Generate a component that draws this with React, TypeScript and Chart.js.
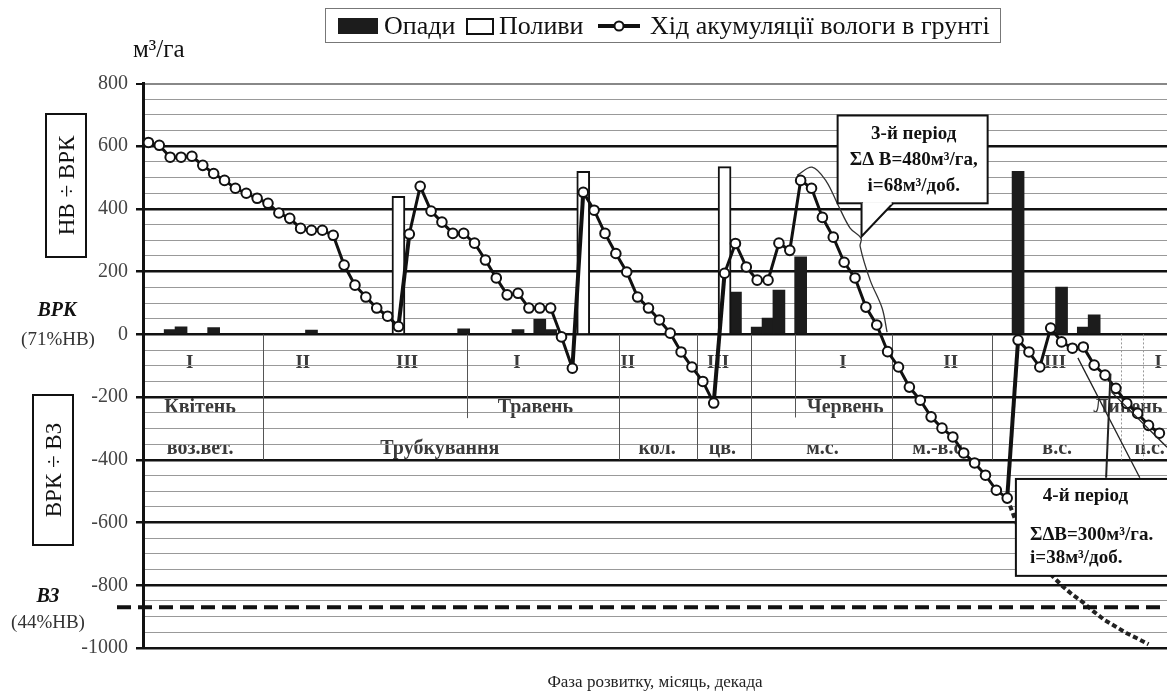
import React, { useEffect, useRef } from "react";
import { Chart, registerables } from "chart.js";

Chart.register(...registerables);

const SERIF = '"Liberation Serif", "Times New Roman", "DejaVu Serif", serif';
const font = (size: number, bold = false, italic = false) =>
  `${italic ? "italic " : ""}${bold ? "bold " : ""}${size}px ${SERIF}`;

// Daily soil-moisture accumulation (m3/ha), day 0 = 1 April
const moistureValues = [
  612, 603, 565, 565, 568, 539, 513, 491, 466, 450,
  434, 418, 387, 370, 338, 332, 332, 316, 221, 157,
  119, 84, 58, 25, 320, 472, 393, 358, 322, 322,
  291, 237, 180, 126, 131, 84, 84, 84, -8, -108,
  453, 396, 322, 258, 199, 119, 84, 46, 4, -56,
  -104, -150, -219, 195, 290, 215, 173, 173, 291, 268,
  491, 466, 373, 310, 230, 180, 87, 30, -55, -104,
  -168, -210, -263, -299, -327, -378, -410, -449, -497, -522,
  -18, -56, -104, 20, -24, -44, -40, -98, -130, -172,
  -220, -252, -290, -315,
];

const rainDays = [2, 3, 6, 15, 29, 34, 36, 37, 54, 56, 57, 58, 60, 80, 84, 86, 87];
const rainValues = [15, 24, 22, 14, 18, 15, 48, 15, 135, 23, 52, 141, 247, 520, 151, 23, 62];

const irrigationDays = [23, 40, 53];
const irrigationValues = [440, 520, 535];

// projected course without the rain of day 80
const projectionDays = [79, 80, 81, 82, 83, 84, 85, 86, 87, 88, 89, 90, 91, 92];
const projectionValues = [-522, -615, -665, -715, -765, -800, -830, -855, -885, -912, -932, -953, -970, -988];

// thin outline of the 3rd period
const envelopeDays = [59.67, 61.05, 62.34, 63.45, 64.55, 65.56, 65.47, 66.39, 67.49, 67.95];
const envelopeValues = [507, 533, 489, 412, 339, 307, 281, 173, 84, 7];

const majorTicks = [800, 600, 400, 200, 0, -200, -400, -600, -800, -1000];

const decadeLabels = ["I", "II", "III", "I", "II", "III", "I", "II", "III", "I"];
const decadePositions = [3.8, 14.2, 23.8, 33.9, 44.1, 52.4, 63.9, 73.8, 83.4, 92.9];
const monthLabels = ["Квітень", "Травень", "Червень", "Липень"];
const monthPositions = [4.75, 35.6, 64.1, 90.1];
const phaseLabels = ["воз.вет.", "Трубкування", "кол.", "цв.", "м.с.", "м.-в.с.", "в.с.", "п.с."];
const phasePositions = [4.75, 26.8, 46.8, 52.8, 62.0, 72.8, 83.6, 92.1];
const dividerPositions = [10.55, 29.3, 43.3, 50.5, 55.4, 59.5, 68.4, 77.6, 89.5, 91.5];
const dividerBottoms = [-400, -267, -400, -400, -400, -265, -400, -400, -400, -400];
const dividerDotted = [false, false, false, false, false, false, false, false, true, true];

const DECADE_ROW = -91;
const MONTH_ROW = -235;
const PHASE_ROW = -365;
const VZ_LEVEL = -870;

const overlay = {
  id: "overlay",
  beforeDraw(chart: any) {
    const { ctx, scales } = chart;
    const x = scales.x, y = scales.y;
    ctx.save();
    ctx.fillStyle = "#3a3a3a";
    ctx.textAlign = "center";
    ctx.textBaseline = "middle";
    ctx.font = font(19, true);
    decadeLabels.forEach((t, i) => ctx.fillText(t, x.getPixelForValue(decadePositions[i]), y.getPixelForValue(DECADE_ROW)));
    ctx.font = font(20, true);
    monthLabels.forEach((t, i) => ctx.fillText(t, x.getPixelForValue(monthPositions[i]), y.getPixelForValue(MONTH_ROW)));
    ctx.font = font(20, true);
    phaseLabels.forEach((t, i) => ctx.fillText(t, x.getPixelForValue(phasePositions[i]), y.getPixelForValue(PHASE_ROW)));
    ctx.restore();
  },
  beforeDatasetsDraw(chart: any) {
    const { ctx, scales } = chart;
    const x = scales.x, y = scales.y;
    ctx.save();
    dividerPositions.forEach((d, i) => {
      ctx.beginPath();
      ctx.strokeStyle = dividerDotted[i] ? "#999" : "#555";
      ctx.lineWidth = 1;
      ctx.setLineDash(dividerDotted[i] ? [2, 2] : []);
      const px = Math.round(x.getPixelForValue(d)) + 0.5;
      ctx.moveTo(px, y.getPixelForValue(0));
      ctx.lineTo(px, y.getPixelForValue(dividerBottoms[i]));
      ctx.stroke();
    });
    ctx.restore();
  },
  afterDatasetsDraw(chart: any) {
    const { ctx, scales, chartArea } = chart;
    const x = scales.x, y = scales.y;
    const P = (d: number, v: number) => [x.getPixelForValue(d), y.getPixelForValue(v)];
    ctx.save();
    // ВЗ dashed level
    ctx.beginPath();
    ctx.strokeStyle = "#111";
    ctx.lineWidth = 4;
    ctx.setLineDash([14, 7]);
    const vz = y.getPixelForValue(VZ_LEVEL);
    ctx.moveTo(117, vz);
    ctx.lineTo(chartArea.right, vz);
    ctx.stroke();
    ctx.setLineDash([]);

    // 4th period pointer & outline lines
    ctx.strokeStyle = "#222";
    const seg = (a: number[], b: number[]) => {
      const [x1, y1] = P(a[0], a[1]);
      const [x2, y2] = P(b[0], b[1]);
      ctx.beginPath();
      ctx.moveTo(x1, y1);
      ctx.lineTo(x2, y2);
      ctx.stroke();
    };
    ctx.lineWidth = 2;
    seg([88.1, -457], [88.5, -125]);
    ctx.lineWidth = 1.3;
    seg([91.2, -457], [85.5, -75]);
    seg([88.6, -184], [93.7, -360]);

    // 3rd period callout
    const [bx1, by1] = P(63.4, 698);
    const [bx2, by2] = P(77.2, 418);
    ctx.fillStyle = "#fff";
    ctx.fillRect(bx1, by1, bx2 - bx1, by2 - by1);
    ctx.lineWidth = 2;
    ctx.strokeStyle = "#111";
    ctx.strokeRect(bx1, by1, bx2 - bx1, by2 - by1);
    const [p1x, p1y] = P(65.6, 418);
    const [p2x, p2y] = P(65.6, 312);
    const [p3x, p3y] = P(68.5, 418);
    ctx.beginPath();
    ctx.moveTo(p1x, p1y);
    ctx.lineTo(p2x, p2y);
    ctx.lineTo(p3x, p3y);
    ctx.closePath();
    ctx.fill();
    ctx.beginPath();
    ctx.moveTo(p1x, p1y);
    ctx.lineTo(p2x, p2y);
    ctx.lineTo(p3x, p3y);
    ctx.stroke();
    ctx.beginPath();
    ctx.strokeStyle = "#fff";
    ctx.lineWidth = 2.5;
    ctx.moveTo(p1x + 1.5, p1y);
    ctx.lineTo(p3x - 1.5, p3y);
    ctx.stroke();

    ctx.fillStyle = "#111";
    ctx.textAlign = "center";
    ctx.textBaseline = "middle";
    ctx.font = font(19, true);
    const cx = x.getPixelForValue(70.4);
    ctx.fillText("3-й період", cx, y.getPixelForValue(640));
    ctx.fillText("ΣΔ B=480м³/га,", cx, y.getPixelForValue(555));
    ctx.fillText("і=68м³/доб.", cx, y.getPixelForValue(472));

    // 4th period callout
    const [qx1, qy1] = P(79.8, -461);
    const [qx2, qy2] = P(95, -770);
    ctx.fillStyle = "#fff";
    ctx.fillRect(qx1, qy1, qx2 - qx1, qy2 - qy1);
    ctx.lineWidth = 2;
    ctx.strokeStyle = "#111";
    ctx.strokeRect(qx1, qy1, qx2 - qx1, qy2 - qy1);
    ctx.fillStyle = "#111";
    ctx.font = font(19, true);
    ctx.textAlign = "center";
    ctx.fillText("4-й період", x.getPixelForValue(86.2), y.getPixelForValue(-515));
    ctx.textAlign = "left";
    ctx.fillText("ΣΔB=300м³/га.", x.getPixelForValue(81.1), y.getPixelForValue(-640));
    ctx.fillText("і=38м³/доб.", x.getPixelForValue(81.1), y.getPixelForValue(-712));
    ctx.restore();
  },
  afterDraw(chart: any) {
    const { ctx } = chart;
    ctx.save();
    ctx.fillStyle = "#111";
    ctx.textBaseline = "middle";

    // Legend
    ctx.strokeStyle = "#777";
    ctx.lineWidth = 1;
    ctx.strokeRect(325.5, 8.5, 675, 34);
    ctx.fillStyle = "#1c1c1c";
    ctx.fillRect(338, 18, 40, 16);
    ctx.strokeStyle = "#111";
    ctx.lineWidth = 2;
    ctx.strokeRect(467, 19, 26, 15);
    ctx.beginPath();
    ctx.lineWidth = 4;
    ctx.moveTo(598, 26);
    ctx.lineTo(640, 26);
    ctx.stroke();
    ctx.beginPath();
    ctx.arc(619, 26, 4.5, 0, Math.PI * 2);
    ctx.fillStyle = "#fff";
    ctx.fill();
    ctx.lineWidth = 2;
    ctx.stroke();
    ctx.fillStyle = "#111";
    ctx.font = font(26);
    ctx.textAlign = "left";
    ctx.fillText("Опади", 384, 27);
    ctx.fillText("Поливи", 499, 27);
    ctx.fillText("Хід акумуляції вологи в грунті", 650, 27);

    // unit
    ctx.font = font(25);
    ctx.fillText("м³/га", 133, 50);

    // side boxes
    ctx.lineWidth = 2;
    ctx.strokeRect(46, 114, 40, 143);
    ctx.strokeRect(33, 395, 40, 150);
    ctx.font = font(23);
    ctx.textAlign = "center";
    ctx.save();
    ctx.translate(67, 185.5);
    ctx.rotate(-Math.PI / 2);
    ctx.fillText("НВ ÷ ВРК", 0, 1);
    ctx.restore();
    ctx.save();
    ctx.translate(54, 470);
    ctx.rotate(-Math.PI / 2);
    ctx.fillText("ВРК ÷ ВЗ", 0, 1);
    ctx.restore();

    ctx.font = font(20, true, true);
    ctx.fillText("ВРК", 57, 311);
    ctx.fillText("ВЗ", 48, 597);
    ctx.font = font(19);
    ctx.fillStyle = "#333";
    ctx.fillText("(71%НВ)", 58, 340);
    ctx.fillText("(44%НВ)", 48, 623);

    ctx.fillStyle = "#222";
    ctx.font = font(17);
    ctx.fillText("Фаза розвитку, місяць, декада", 655, 683);
    ctx.restore();
  },
};

export default function App() {
  const ref = useRef<HTMLCanvasElement>(null);
  useEffect(() => {
    const canvas = ref.current;
    if (!canvas) return;
    const chart = new Chart(canvas, {
      type: "bar",
      data: {
        datasets: [
          {
            type: "line",
            label: "Хід акумуляції вологи в грунті",
            data: moistureValues.map((v, i) => ({ x: i, y: v })),
            borderColor: "#111",
            borderWidth: 3,
            segment: {
              borderWidth: (c: any) => (c.p1.parsed.y - c.p0.parsed.y > 250 ? 4 : 3),
            },
            pointRadius: 4.8,
            pointBackgroundColor: "#fff",
            pointBorderColor: "#111",
            pointBorderWidth: 2,
            tension: 0,
            order: 0,
          } as any,
          {
            type: "line",
            label: "projection",
            data: projectionDays.map((d, i) => ({ x: d, y: projectionValues[i] })),
            borderColor: "#222",
            borderWidth: 4,
            borderDash: [5, 3],
            pointRadius: 0,
            order: 1,
          } as any,
          {
            type: "line",
            label: "envelope",
            data: envelopeDays.map((d, i) => ({ x: d, y: envelopeValues[i] })),
            borderColor: "#333",
            borderWidth: 1.3,
            pointRadius: 0,
            tension: 0.35,
            order: 1,
          } as any,
          {
            type: "bar",
            label: "Поливи",
            data: irrigationDays.map((d, i) => ({ x: d, y: irrigationValues[i] })),
            backgroundColor: "#fff",
            borderColor: "#111",
            borderWidth: 2,
            barThickness: 13,
            grouped: false,
            order: 2,
          } as any,
          {
            type: "bar",
            label: "Опади",
            data: rainDays.map((d, i) => ({ x: d, y: rainValues[i] })),
            backgroundColor: "#1c1c1c",
            borderWidth: 0,
            barThickness: 12,
            grouped: false,
            order: 2,
          } as any,
        ],
      },
      options: {
        responsive: false,
        animation: false,
        layout: { autoPadding: false, padding: { top: 83.5, bottom: 47, left: 0, right: 0 } },
        plugins: { legend: { display: false }, tooltip: { enabled: false } },
        scales: {
          x: { type: "linear", min: -0.5, max: 93.7, display: false, offset: false, bounds: "ticks" },
          y: {
            type: "linear",
            min: -1000,
            max: 800,
            afterFit: (s: any) => {
              s.width = 143;
            },
            ticks: {
              stepSize: 50,
              autoSkip: false,
              color: "#444",
              padding: 8,
              font: { family: SERIF, size: 20 },
              callback: (v: any) => (majorTicks.includes(Number(v)) ? String(v) : ""),
            },
            grid: {
              drawTicks: true,
              tickLength: 7,
              color: (c: any) => {
                const v = c.tick ? c.tick.value : 1;
                if (v === 800) return "#888";
                return majorTicks.includes(v) ? "#111" : "#999";
              },
              lineWidth: (c: any) => {
                const v = c.tick ? c.tick.value : 1;
                if (v === 800) return 2;
                return majorTicks.includes(v) ? 2.5 : 1;
              },
              tickColor: (c: any) => {
                const v = c.tick ? c.tick.value : 1;
                return majorTicks.includes(v) ? "#111" : "rgba(0,0,0,0)";
              },
            },
            border: { display: true, color: "#111", width: 3 },
          },
        },
      },
      plugins: [overlay],
    } as any);
    return () => chart.destroy();
  }, []);
  return (
    <div style={{ position: "fixed", left: 0, top: 0, width: 1167, height: 695, background: "#fff" }}>
      <canvas ref={ref} width={1167} height={695} style={{ width: 1167, height: 695 }} />
    </div>
  );
}
